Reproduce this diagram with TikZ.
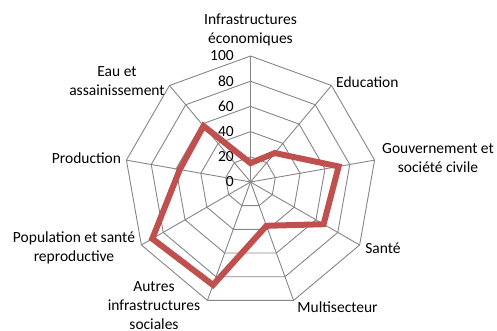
\documentclass[tikz,border=0pt]{standalone}
\usepackage{fontspec}
\setmainfont{Carlito}
\definecolor{gridgray}{RGB}{134,134,134}
\definecolor{seriesred}{RGB}{192,80,77}
\tikzset{
  gridline/.style={draw=gridgray, line width=0.9pt},
  serie/.style={draw=seriesred, line width=6pt, line join=miter},
  axislabel/.style={align=center, inner sep=0pt, font=\fontsize{15.5}{19}\selectfont},
  ticklabel/.style={anchor=east, inner sep=0pt, font=\fontsize{15.5}{16}\selectfont}
}
\begin{document}
\begin{tikzpicture}[x=1pt,y=1pt]
      \useasboundingbox (-250.5,-148) rectangle (246.5,182);
      \coordinate (o) at (0,0);
      \path
        (90:126) coordinate (0)
        (50:126) coordinate (1)
        (10:126) coordinate (2)
        (-30:126) coordinate (3)
        (-70:126) coordinate (4)
        (-110:126) coordinate (5)
        (-150:126) coordinate (6)
        (170:126) coordinate (7)
        (130:126) coordinate (8);
      \begin{scope}[gridline]
        \foreach \r in {25.2,50.4,75.6,100.8,126}
          \draw (90:\r) -- (50:\r) -- (10:\r) -- (-30:\r) -- (-70:\r)
            -- (-110:\r) -- (-150:\r) -- (170:\r) -- (130:\r) -- cycle;
        \draw (o) to (0);
        \draw (o) to (1);
        \draw (o) to (2);
        \draw (o) to (3);
        \draw (o) to (4);
        \draw (o) to (5);
        \draw (o) to (6);
        \draw (o) to (7);
        \draw (o) to (8);
      \end{scope}
      \path
        (-16.5,0) node[ticklabel] (t0){0}
        (-16.5,25.2) node[ticklabel] (t20){20}
        (-16.5,50.4) node[ticklabel] (t40){40}
        (-16.5,75.6) node[ticklabel] (t60){60}
        (-16.5,100.8) node[ticklabel] (t80){80}
        (-16.5,126) node[ticklabel] (t100){100};
      \path
        (90:18.9) coordinate (d0)
        (50:37.8) coordinate (d1)
        (10:89.5) coordinate (d2)
        (-30:84.4) coordinate (d3)
        (-70:46.6) coordinate (d4)
        (-110:109.6) coordinate (d5)
        (-150:113.4) coordinate (d6)
        (170:71.8) coordinate (d7)
        (130:73.1) coordinate (d8);
      \draw[serie] (d0) -- (d1) -- (d2) -- (d3) -- (d4) -- (d5) -- (d6) -- (d7) -- (d8) -- cycle;
      \path
        (0,152.5) node[axislabel] (l0){Infrastructures\\économiques}
        (85.5,100) node[axislabel, anchor=west] (l1){Education}
        (187.5,23.5) node[axislabel] (l2){Gouvernement et\\société civile}
        (132.5,-66) node[axislabel] (l3){Santé}
        (87,-125) node[axislabel] (l4){Multisecteur}
        (-96.5,-123.5) node[axislabel] (l5){Autres\\infrastructures\\sociales}
        (-176.5,-65.5) node[axislabel] (l6){Population et santé\\reproductive}
        (-164,23.5) node[axislabel] (l7){Production}
        (-133.5,101) node[axislabel] (l8){Eau et\\assainissement};
    \end{tikzpicture}
\end{document}
